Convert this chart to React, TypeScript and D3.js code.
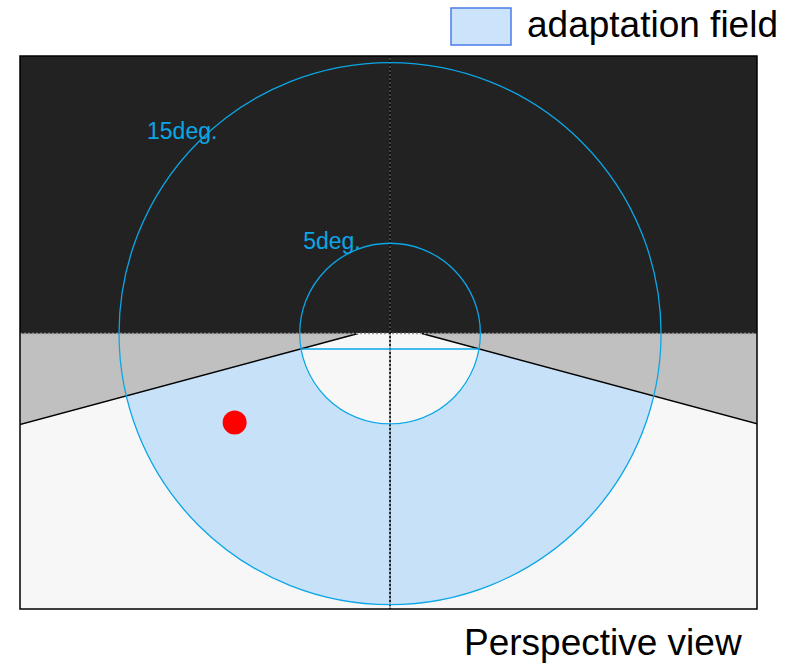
import React from "react";
import * as d3 from "d3";

// Data (degrees of visual angle, horizon at y = 0)
const circleRadii = [5, 15];
const circleLabels = ["5deg.", "15deg."];
const labelPositions = [
  [-4.81, 4.68],
  [-13.45, 10.76],
];
const roadLeftEdge = [
  [-1.77, 0],
  [-30, -7.6],
];
const roadRightEdge = [
  [1.77, 0],
  [30, -7.6],
];
const stimulusPoint = [-8.6, -4.93];
const legendLabel = "adaptation field";
const viewLabel = "Perspective view";

const W = 796;
const H = 664;

export default function App() {
  const x = d3.scaleLinear().domain([-20.48, 20.31]).range([20, 757]);
  const y = d3.scaleLinear().domain([15.38, -15.26]).range([56, 609]);
  const k = x(1) - x(0);
  const x0 = x(0);
  const y0 = y(0);
  const left = x.range()[0];
  const right = x.range()[1];
  const top = y.range()[0];
  const bottom = y.range()[1];

  const roadPts: [number, number][] = [
    [x(roadLeftEdge[0][0]), y(roadLeftEdge[0][1])],
    [x(roadRightEdge[0][0]), y(roadRightEdge[0][1])],
    [x(roadRightEdge[1][0]), y(roadRightEdge[1][1])],
    [x(roadRightEdge[1][0]), y(-40)],
    [x(roadLeftEdge[1][0]), y(-40)],
    [x(roadLeftEdge[1][0]), y(roadLeftEdge[1][1])],
  ];
  const line = d3.line();
  const roadPath = line(roadPts) + "Z";

  // chord where road edges meet inner circle
  const rInner = circleRadii[0];
  const dx = roadLeftEdge[1][0] - roadLeftEdge[0][0];
  const dy = roadLeftEdge[1][1] - roadLeftEdge[0][1];
  const slope = dy / dx;
  const x1 = roadLeftEdge[0][0];
  const a = 1 + slope * slope;
  const b = -2 * slope * slope * x1;
  const c = slope * slope * x1 * x1 - rInner * rInner;
  const xi = (-b - Math.sqrt(b * b - 4 * a * c)) / (2 * a);
  const yi = slope * (xi - x1);

  const blue = "#0ba6e6";

  return (
    <svg
      width={W}
      height={H}
      style={{ position: "absolute", left: 0, top: 0, fontFamily: "Arial, 'Liberation Sans', sans-serif" }}
    >
      <defs>
        <clipPath id="frame">
          <rect x={left} y={top} width={right - left} height={bottom - top} />
        </clipPath>
        <clipPath id="road">
          <path d={roadPath} />
        </clipPath>
      </defs>
      <g clipPath="url(#frame)">
        <rect x={left} y={top} width={right - left} height={bottom - top} fill="#222222" />
        <rect x={left} y={y0} width={right - left} height={bottom - y0} fill="#c0c0c0" />
        <path d={roadPath} fill="#f7f7f7" />
        <g clipPath="url(#road)">
          <circle cx={x0} cy={y0} r={circleRadii[1] * k} fill="#c7e1f9" />
          <circle cx={x0} cy={y0} r={rInner * k + 0.8} fill="#ffffff" />
          <circle cx={x0} cy={y0} r={rInner * k} fill="#f7f7f7" />
        </g>
        <line x1={roadPts[0][0]} y1={roadPts[0][1]} x2={roadPts[5][0]} y2={roadPts[5][1]} stroke="#000" strokeWidth={1.5} />
        <line x1={roadPts[1][0]} y1={roadPts[1][1]} x2={roadPts[2][0]} y2={roadPts[2][1]} stroke="#000" strokeWidth={1.5} />
        <line x1={left} y1={y0} x2={right} y2={y0} stroke="#999" strokeWidth={1.5} strokeDasharray="2,2" />
        <line x1={x0} y1={top} x2={x0} y2={bottom} stroke="#666" strokeWidth={1} />
        <line x1={x0} y1={top} x2={x0} y2={bottom} stroke="#000" strokeWidth={1.5} strokeDasharray="2,2" />
        {circleRadii.map((r, i) => (
          <circle key={i} cx={x0} cy={y0} r={r * k} fill="none" stroke={blue} strokeWidth={1.3} />
        ))}
        <line x1={x(xi)} y1={y(yi)} x2={x(-xi)} y2={y(yi)} stroke={blue} strokeWidth={1.5} />
        {circleLabels.map((t, i) => (
          <text key={i} x={x(labelPositions[i][0])} y={y(labelPositions[i][1])} fill={blue} fontSize={23}>
            {t}
          </text>
        ))}
        <circle cx={x(stimulusPoint[0])} cy={y(stimulusPoint[1])} r={12} fill="#ff0000" />
      </g>
      <rect x={left} y={top} width={right - left} height={bottom - top} fill="none" stroke="#000" strokeWidth={1.5} />
      <rect x={451} y={8} width={60} height={37} fill="#cce4fb" stroke="#4a7de8" strokeWidth={1.5} />
      <text x={527} y={37} fontSize={37} fill="#000">{legendLabel}</text>
      <text x={464} y={655} fontSize={37} fill="#000">{viewLabel}</text>
    </svg>
  );
}
